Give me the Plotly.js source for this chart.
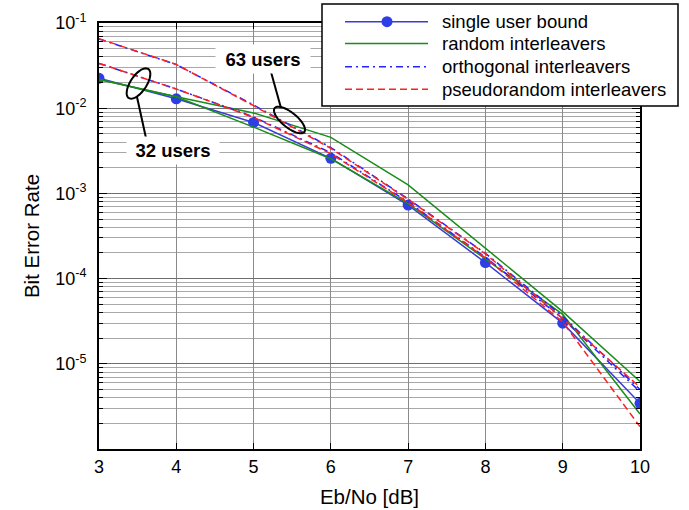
<!DOCTYPE html>
<html>
<head>
<meta charset="utf-8">
<script src="https://cdn.plot.ly/plotly-3.0.1.min.js"></script>
<style>
  html, body { margin: 0; padding: 0; background: #ffffff; }
  #chart { width: 689px; height: 510px; }
</style>
</head>
<body>
<div id="chart"></div>
<script>
// ---- data ----
const ebNo = [3, 4, 5, 6, 7, 8, 9, 10];
const singleUserBound = [0.0225, 0.0129, 0.0068, 0.00258, 0.00073, 0.000154, 3.0e-5, 3.44e-6];
const random32 = [0.0218, 0.0136, 0.0060, 0.00255, 0.00076, 0.000170, 3.8e-5, 2.58e-6];
const random63 = [0.0218, 0.0136, 0.0088, 0.00455, 0.00126, 0.000230, 4.1e-5, 6.2e-6];
const orthogonal32 = [0.0336, 0.0168, 0.0079, 0.00300, 0.00079, 0.000178, 3.4e-5, 4.7e-6];
const orthogonal63 = [0.0650, 0.0325, 0.0109, 0.00345, 0.00086, 0.000198, 3.6e-5, 5.0e-6];
const pseudo32 = [0.0336, 0.0168, 0.0078, 0.00292, 0.00078, 0.000175, 3.1e-5, 1.83e-6];
const pseudo63 = [0.0655, 0.0326, 0.0107, 0.00338, 0.00085, 0.000195, 3.4e-5, 5.3e-6];

const seriesNames = ['single user bound', 'random interleavers', 'orthogonal interleavers', 'pseudorandom interleavers'];
const xTickVals = [3, 4, 5, 6, 7, 8, 9, 10];
const yTickVals = [1e-5, 1e-4, 1e-3, 1e-2, 1e-1];
const yTickText = ['10<sup>-5</sup>', '10<sup>-4</sup>', '10<sup>-3</sup>', '10<sup>-2</sup>', '10<sup>-1</sup>'];
const groupLabels = ['63 users', '32 users'];

// ---- layout geometry ----
const W = 689, H = 510;
const M = { l: 99, r: 49, t: 23, b: 61 };
const PW = W - M.l - M.r, PH = H - M.t - M.b;
const px = v => (v - M.l) / PW;          // pixel x -> paper
const py = v => (H - M.b - v) / PH;      // pixel y -> paper

// minor grid positions (2..9 per decade)
const minorVals = [];
for (let e = -6; e < -1; e++) for (let k = 2; k <= 9; k++) minorVals.push(k * Math.pow(10, e));

const FONT = 'Liberation Sans, Arial, Helvetica, sans-serif';
const BLUE = '#3b3bd6', GREEN = '#1a8c1a', DBLUE = '#2323ff', RED = '#ff1f1f';
const DASHDOT = '7px,4px,2px,4px', DASH = '7px,4px';

const styles = [
  { color: BLUE, dash: 'solid', marker: true },
  { color: GREEN, dash: 'solid' },
  { color: DBLUE, dash: DASHDOT },
  { color: RED, dash: DASH }
];

function line(y, idx, extra) {
  const s = styles[idx];
  return Object.assign({
    x: ebNo, y: y, name: seriesNames[idx], type: 'scatter', mode: 'lines',
    line: { color: s.color, width: 1.5, dash: s.dash },
    showlegend: false
  }, extra || {});
}

const traces = [
  line(singleUserBound, 0, { mode: 'lines+markers', marker: { color: '#2e3ee6', size: 11, line: { width: 0 } } }),
  line(random63, 1),
  line(random32, 1),
  line(orthogonal63, 2),
  line(orthogonal32, 2),
  line(pseudo63, 3),
  line(pseudo32, 3)
];

function ellipsePath(cx, cy, a, b, angDeg) {
  const t = angDeg * Math.PI / 180;
  let d = '';
  for (let i = 0; i <= 60; i++) {
    const u = 2 * Math.PI * i / 60;
    const ex = a * Math.cos(u), ey = b * Math.sin(u);
    const X = cx + ex * Math.cos(t) - ey * Math.sin(t);
    const Y = cy - (ex * Math.sin(t) + ey * Math.cos(t));
    d += (i === 0 ? 'M' : 'L') + px(X).toFixed(5) + ',' + py(Y).toFixed(5);
  }
  return d + 'Z';
}

const shapes = [
  { type: 'path', xref: 'paper', yref: 'paper', path: ellipsePath(138.5, 83.5, 17.5, 8, 56), line: { color: 'black', width: 2 } },
  { type: 'path', xref: 'paper', yref: 'paper', path: ellipsePath(289.5, 120, 19, 7.5, -39), line: { color: 'black', width: 2 } },
  { type: 'line', xref: 'paper', yref: 'paper', x0: px(137), y0: py(97), x1: px(146), y1: py(138), line: { color: 'black', width: 2 } },
  { type: 'line', xref: 'paper', yref: 'paper', x0: px(281), y0: py(108), x1: px(271), y1: py(72), line: { color: 'black', width: 2 } }
];

const annotations = [
  { xref: 'paper', yref: 'paper', x: px(263), y: py(58.5), xanchor: 'center', yanchor: 'middle',
    text: '<b>' + groupLabels[0] + '</b>', showarrow: false,
    font: { family: FONT, size: 18.5, color: 'black' }, bgcolor: 'white', width: 92, height: 26 },
  { xref: 'paper', yref: 'paper', x: px(172.5), y: py(150.5), xanchor: 'center', yanchor: 'middle',
    text: '<b>' + groupLabels[1] + '</b>', showarrow: false,
    font: { family: FONT, size: 18.5, color: 'black' }, bgcolor: 'white', width: 90, height: 25 }
];

// ---- hand-built legend box (matches the long sample lines of the reference) ----
const LEG = { x0: 322, y0: 4, x1: 678, y1: 106, rows: [21.7, 43.6, 66.7, 89.3], s0: 345, s1: 428, tx: 440 };
shapes.push({ type: 'rect', xref: 'paper', yref: 'paper', layer: 'above',
  x0: px(LEG.x0), y0: py(LEG.y0), x1: px(LEG.x1), y1: py(LEG.y1),
  fillcolor: 'white', line: { color: 'black', width: 1.5 } });
seriesNames.forEach((name, i) => {
  const s = styles[i], yy = py(LEG.rows[i]);
  shapes.push({ type: 'line', xref: 'paper', yref: 'paper', layer: 'above',
    x0: px(LEG.s0), x1: px(LEG.s1), y0: yy, y1: yy,
    line: { color: s.color, width: 1.5, dash: s.dash } });
  if (s.marker) {
    const cx = (LEG.s0 + LEG.s1) / 2 + 0.5, r = 5.5;
    shapes.push({ type: 'circle', xref: 'paper', yref: 'paper', layer: 'above',
      x0: px(cx - r), x1: px(cx + r), y0: py(LEG.rows[i] + r), y1: py(LEG.rows[i] - r),
      fillcolor: '#2e3ee6', line: { width: 0 } });
  }
  annotations.push({ xref: 'paper', yref: 'paper', x: px(LEG.tx), y: yy, xanchor: 'left', yanchor: 'middle',
    text: name, showarrow: false, font: { family: FONT, size: 18.5, color: 'black' } });
});

const layout = {
  width: W, height: H,
  margin: M,
  paper_bgcolor: 'white', plot_bgcolor: 'white',
  font: { family: FONT, size: 18, color: 'black' },
  showlegend: false,
  xaxis: {
    range: [3, 10], tickmode: 'array', tickvals: xTickVals,
    ticks: 'inside', ticklen: 6, tickcolor: 'black', tickwidth: 1,
    showline: true, linecolor: 'black', linewidth: 2, mirror: 'ticks',
    showgrid: true, gridcolor: '#8a8a8a', gridwidth: 1, zeroline: false,
    title: { text: 'Eb/No [dB]', font: { family: FONT, size: 20.5 }, standoff: 14 },
    tickfont: { family: FONT, size: 18 }
  },
  yaxis: {
    type: 'log', range: [-6, -1], tickmode: 'array', tickvals: yTickVals, ticktext: yTickText,
    ticks: 'inside', ticklen: 8, tickcolor: 'black', tickwidth: 1, ticklabelstandoff: 7,
    showline: true, linecolor: 'black', linewidth: 2, mirror: 'ticks',
    showgrid: true, gridcolor: '#6e6e6e', gridwidth: 1, zeroline: false,
    minor: { tickmode: 'array', tickvals: minorVals, showgrid: true, gridcolor: '#a8a8a8', gridwidth: 1,
             ticks: 'inside', ticklen: 4, tickcolor: 'black' },
    title: { text: 'Bit Error Rate', font: { family: FONT, size: 20.5 }, standoff: 10 },
    tickfont: { family: FONT, size: 18 }
  },
  shapes: shapes,
  annotations: annotations
};

Plotly.newPlot('chart', traces, layout, { staticPlot: true, displayModeBar: false });
</script>
</body>
</html>
